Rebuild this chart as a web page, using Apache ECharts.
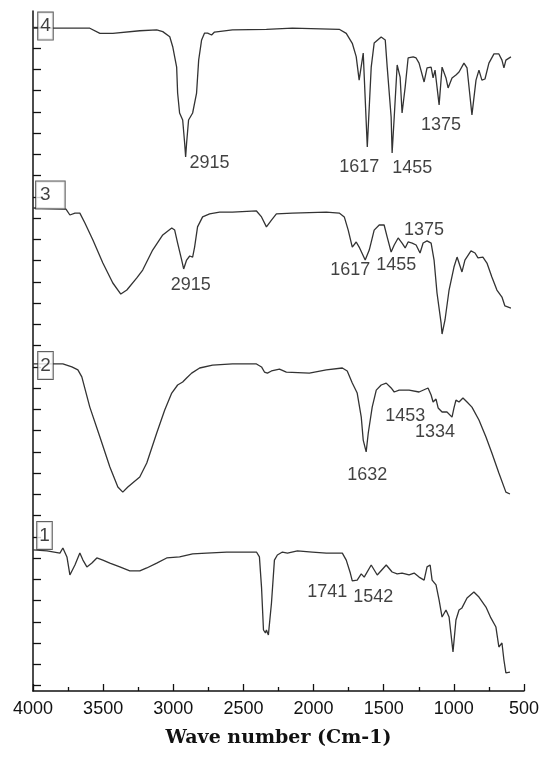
<!DOCTYPE html>
<html><head><meta charset="utf-8">
<script src="https://cdn.jsdelivr.net/npm/echarts@6/dist/echarts.min.js"></script>
<style>html,body{margin:0;padding:0;background:#fff}#c{width:542px;height:762px}</style>
</head><body><div id="c"></div>
<script>
// Wave-number axis ticks
const xTicks = [4000, 3500, 3000, 2500, 2000, 1500, 1000, 500];
// Left axis tick positions (arbitrary transmittance units, offset stack)
const yTicks = [0.25,1.25,2.25,3.25,4.25,5.25,6.25,7.25,8.25,9.25,10.25,11.25,12.25,13.25,14.25,15.25,16.25,17.25,18.25,19.25,20.25,21.25,22.25,23.25,24.25,25.25,26.25,27.25,28.25,29.25,30.25,31.25];

// Spectrum 4 [wave number, transmittance (offset)]
const spec4 = [[4000,31.20],[3858,31.19],[3595,31.19],[3523,30.95],[3431,30.95],[3239,31.07],[3118,31.11],[3075,31.03],[3025,30.79],[3004,30.32],[2976,29.36],[2969,28.14],[2955,27.20],[2933,26.87],[2919,25.79],[2912,25.13],[2905,25.79],[2891,26.87],[2862,27.20],[2834,28.14],[2819,29.69],[2798,30.64],[2777,30.96],[2755,30.96],[2727,30.87],[2706,31.01],[2578,31.11],[2336,31.14],[2151,31.19],[1817,31.14],[1767,30.95],[1724,30.48],[1696,29.85],[1675,28.75],[1646,30.02],[1617,25.60],[1589,29.36],[1568,30.49],[1518,30.78],[1489,30.64],[1475,29.36],[1447,27.01],[1440,25.32],[1425,27.01],[1404,29.46],[1383,28.89],[1369,27.20],[1347,28.42],[1326,29.79],[1290,29.84],[1269,29.79],[1248,29.55],[1212,28.66],[1191,29.32],[1162,29.36],[1148,28.85],[1134,29.22],[1105,27.58],[1084,29.36],[1056,28.85],[1041,28.38],[1013,28.85],[985,28.99],[963,29.13],[928,29.55],[906,29.32],[871,27.11],[842,28.75],[821,29.22],[800,28.75],[778,28.80],[750,29.55],[714,29.98],[679,29.98],[657,29.69],[643,29.32],[629,29.69],[593,29.84]];

// Spectrum 3
const spec3 = [[4000,22.73],[3765,22.68],[3737,22.40],[3701,22.49],[3666,22.49],[3630,22.02],[3573,21.22],[3502,20.14],[3431,19.20],[3374,18.68],[3331,18.87],[3260,19.44],[3218,19.81],[3147,20.75],[3075,21.46],[3011,21.79],[2990,21.69],[2969,21.08],[2940,20.28],[2926,19.86],[2905,20.28],[2883,20.47],[2862,20.42],[2848,20.89],[2827,21.84],[2791,22.31],[2741,22.45],[2670,22.54],[2578,22.54],[2407,22.59],[2371,22.31],[2336,21.84],[2322,21.79],[2300,22.16],[2265,22.45],[2151,22.49],[1909,22.54],[1817,22.49],[1781,22.31],[1753,21.69],[1724,20.89],[1696,21.13],[1675,20.89],[1632,20.28],[1603,20.75],[1568,21.69],[1532,21.93],[1497,21.93],[1475,21.36],[1447,20.66],[1425,20.99],[1397,21.32],[1369,21.08],[1347,20.85],[1326,21.13],[1297,21.08],[1269,20.99],[1241,20.61],[1219,21.08],[1191,21.18],[1162,21.08],[1141,20.28],[1120,18.73],[1091,17.32],[1084,16.80],[1063,17.46],[1034,18.87],[999,19.95],[977,20.42],[942,19.72],[921,20.28],[878,20.71],[849,20.61],[828,20.38],[793,20.42],[764,20.14],[729,19.48],[693,18.87],[657,18.54],[636,18.12],[593,18.02]];

// Spectrum 2
const spec2 = [[4000,15.39],[3851,15.39],[3787,15.39],[3723,15.25],[3680,15.11],[3652,14.78],[3595,13.36],[3523,11.95],[3452,10.54],[3395,9.60],[3360,9.36],[3324,9.60],[3239,10.07],[3189,10.73],[3118,12.14],[3061,13.22],[3011,14.02],[2969,14.40],[2933,14.54],[2905,14.73],[2869,14.96],[2812,15.20],[2720,15.34],[2578,15.39],[2407,15.39],[2371,15.25],[2350,15.01],[2329,14.96],[2300,15.06],[2243,15.15],[2194,15.01],[2030,14.96],[1909,15.11],[1795,15.20],[1760,15.06],[1724,14.49],[1689,14.02],[1660,12.89],[1646,11.81],[1625,11.25],[1610,12.14],[1582,13.36],[1553,14.16],[1518,14.40],[1482,14.49],[1447,14.26],[1425,14.07],[1390,14.16],[1319,14.16],[1248,14.07],[1184,14.26],[1162,13.93],[1148,13.60],[1127,13.74],[1112,13.32],[1084,13.13],[1049,13.13],[1013,12.89],[999,13.32],[985,13.69],[963,13.60],[935,13.79],[906,13.60],[871,13.36],[821,12.75],[771,11.95],[729,11.20],[679,10.26],[629,9.36],[600,9.27]];

// Spectrum 1
const spec1 = [[4000,6.64],[3900,6.59],[3808,6.49],[3787,6.73],[3758,6.31],[3737,5.46],[3701,5.93],[3666,6.49],[3644,6.16],[3616,5.84],[3580,6.02],[3545,6.26],[3502,6.16],[3452,6.02],[3381,5.84],[3310,5.65],[3239,5.65],[3189,5.79],[3118,6.02],[3047,6.26],[2955,6.31],[2862,6.45],[2763,6.49],[2620,6.54],[2478,6.54],[2407,6.54],[2386,6.31],[2371,4.89],[2357,2.87],[2343,2.73],[2336,2.87],[2322,2.64],[2300,4.14],[2279,6.16],[2258,6.40],[2222,6.54],[2186,6.49],[2115,6.59],[2009,6.54],[1909,6.49],[1795,6.49],[1767,6.16],[1738,5.55],[1724,5.18],[1689,5.22],[1660,5.51],[1639,5.36],[1589,5.93],[1546,5.46],[1482,5.93],[1440,5.60],[1404,5.51],[1369,5.55],[1319,5.46],[1283,5.55],[1248,5.36],[1212,5.22],[1191,5.84],[1169,5.93],[1155,5.22],[1127,4.99],[1105,4.28],[1084,3.48],[1056,3.81],[1034,3.48],[1006,1.84],[985,3.34],[963,3.81],[942,3.91],[906,4.38],[857,4.66],[821,4.42],[771,3.95],[736,3.44],[700,3.01],[679,2.07],[657,2.26],[643,1.46],[629,0.85],[600,0.89]];

// Peak annotations [wave number, level, text]
const peakLabels = [[2741,24.85,'2915'],[1674,24.66,'1617'],[1297,24.61,'1455'],[1091,26.64,'1375'],
  [2876,19.11,'2915'],[1738,19.81,'1617'],[1411,20.05,'1455'],[1212,21.69,'1375'],
  [1617,10.16,'1632'],[1347,12.94,'1453'],[1134,12.19,'1334'],
  [1902,4.66,'1741'],[1575,4.42,'1542']];
// Sample number boxes [wave number, level, text]
const sampleBoxes = [[3911,31.29,'4'],[3876,23.34,'3'],[3911,15.32,'2'],[3918,7.32,'1']];

const lineColor = '#333333';
function specSeries(name, data){
  return {name, type:'line', data, showSymbol:false, symbol:'none', smooth:false,
    lineStyle:{color:lineColor, width:1.3}, z:2, silent:true};
}
const chart = echarts.init(document.getElementById('c'), null, {renderer:'canvas'});
chart.setOption({
  animation:false,
  backgroundColor:'#ffffff',
  grid:{left:33, right:17, top:11, bottom:71},
  xAxis:{type:'value', inverse:true, min:500, max:4000, interval:500,
    name:'Wave number (Cm-1)', nameLocation:'middle', nameGap:38,
    nameTextStyle:{fontFamily:'DejaVu Serif', fontWeight:'bold', fontSize:19, color:'#111'},
    axisLine:{lineStyle:{color:'#111', width:1.5}},
    axisTick:{inside:true, length:7, lineStyle:{color:'#111', width:1.3}},
    minorTick:{show:true, splitNumber:2, length:4, lineStyle:{color:'#111', width:1.3}},
    axisLabel:{margin:9, fontSize:18, fontFamily:'Liberation Sans', color:'#111',
      customValues:xTicks, formatter:v=>String(v)},
    splitLine:{show:false}},
  yAxis:{type:'value', min:0, max:32,
    axisLine:{show:true, lineStyle:{color:'#111', width:1.5}},
    axisTick:{show:true, inside:true, length:8, customValues:yTicks, lineStyle:{color:'#111', width:1.3}},
    axisLabel:{show:false}, splitLine:{show:false}},
  series:[
    specSeries('4', spec4), specSeries('3', spec3), specSeries('2', spec2), specSeries('1', spec1),
    {type:'scatter', symbolSize:0, silent:true, z:5,
      data:peakLabels.map(d=>({value:[d[0],d[1]], name:d[2]})),
      label:{show:true, position:'inside', formatter:p=>p.name, fontSize:18,
        fontFamily:'Liberation Sans', color:'#111'}},
    {type:'scatter', symbolSize:0, silent:true, z:6,
      data:sampleBoxes.map(d=>({value:[d[0],d[1]], name:d[2],
        label:{padding: d[2]==='3' ? [3,14,2,4] : [3,2,2,2]}})),
      label:{show:true, position:'inside', formatter:p=>p.name, fontSize:19,
        fontFamily:'Liberation Sans', color:'#111', backgroundColor:'#fff',
        borderColor:'#333', borderWidth:1, lineHeight:22}}
  ]
});
</script></body></html>
